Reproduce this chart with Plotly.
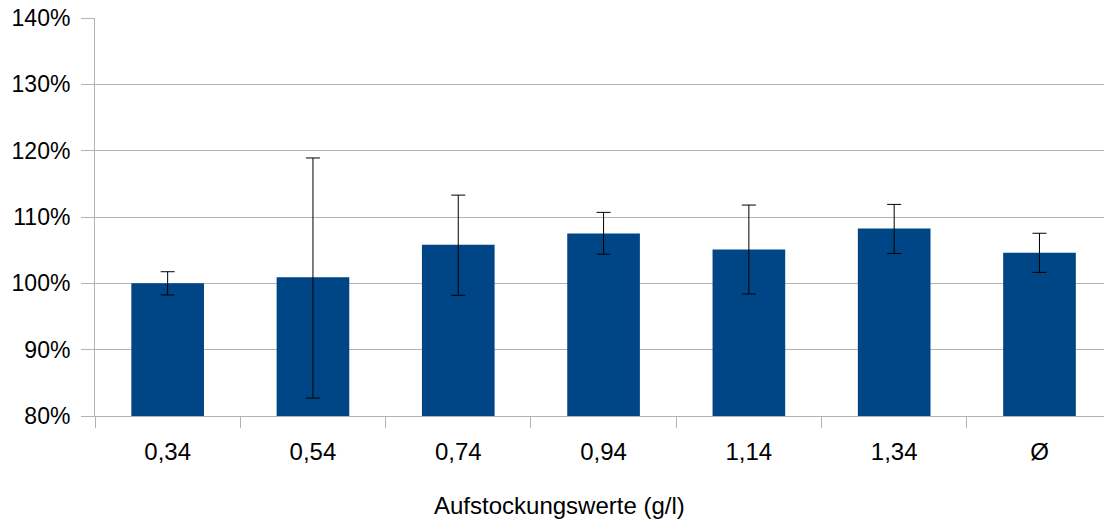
import plotly.graph_objects as go

categories = ["0,34", "0,54", "0,74", "0,94", "1,14", "1,34", "Ø"]
values = [100.0, 100.9, 105.8, 107.5, 105.1, 108.25, 104.6]
err_plus = [1.75, 18.0, 7.5, 3.2, 6.7, 3.65, 2.95]
err_minus = [1.75, 18.2, 7.6, 3.1, 6.7, 3.75, 2.95]
y_ticks = [80, 90, 100, 110, 120, 130, 140]
x_title = "Aufstockungswerte (g/l)"

fig = go.Figure()
fig.add_trace(go.Bar(
    x=categories,
    y=values,
    base=0,
    width=0.5,
    marker=dict(color="#004586", line=dict(width=0)),
    error_y=dict(type="data", symmetric=False, array=err_plus, arrayminus=err_minus,
                 color="#000000", thickness=1, width=7),
    showlegend=False,
    hoverinfo="skip",
))

font = "Liberation Sans, Arial, sans-serif"
fig.update_layout(
    width=1104, height=520,
    margin=dict(l=95, r=0, t=18, b=104),
    paper_bgcolor="white", plot_bgcolor="white",
    font=dict(family=font, size=23, color="#000000"),
    xaxis=dict(
        type="category",
        range=[-0.5, 6.444],
        tickson="boundaries",
        ticks="outside", ticklen=11, tickcolor="#b3b3b3", tickwidth=1,
        showgrid=False,
        showline=True, linecolor="#b3b3b3", linewidth=1,
        tickfont=dict(size=24),
        ticklabelstandoff=14,
    ),
    yaxis=dict(
        range=[80, 140],
        tickvals=y_ticks,
        ticktext=[f"{v}%" for v in y_ticks],
        ticks="outside", ticklen=13, tickcolor="#b3b3b3", tickwidth=1,
        showgrid=True, gridcolor="#b3b3b3", gridwidth=1,
        showline=True, linecolor="#b3b3b3", linewidth=1,
        zeroline=False,
        tickfont=dict(size=23),
        ticklabelstandoff=6,
    ),
    bargap=0.5,
    annotations=[dict(
        text=x_title, xref="paper", yref="paper", x=0.46, y=-0.224,
        xanchor="center", yanchor="middle", showarrow=False,
        font=dict(family=font, size=24, color="#000000"),
    )],
)

fig.write_html("out.html", config={"displayModeBar": False},
               post_script="document.body.style.margin='0';document.body.style.overflow='hidden';")
